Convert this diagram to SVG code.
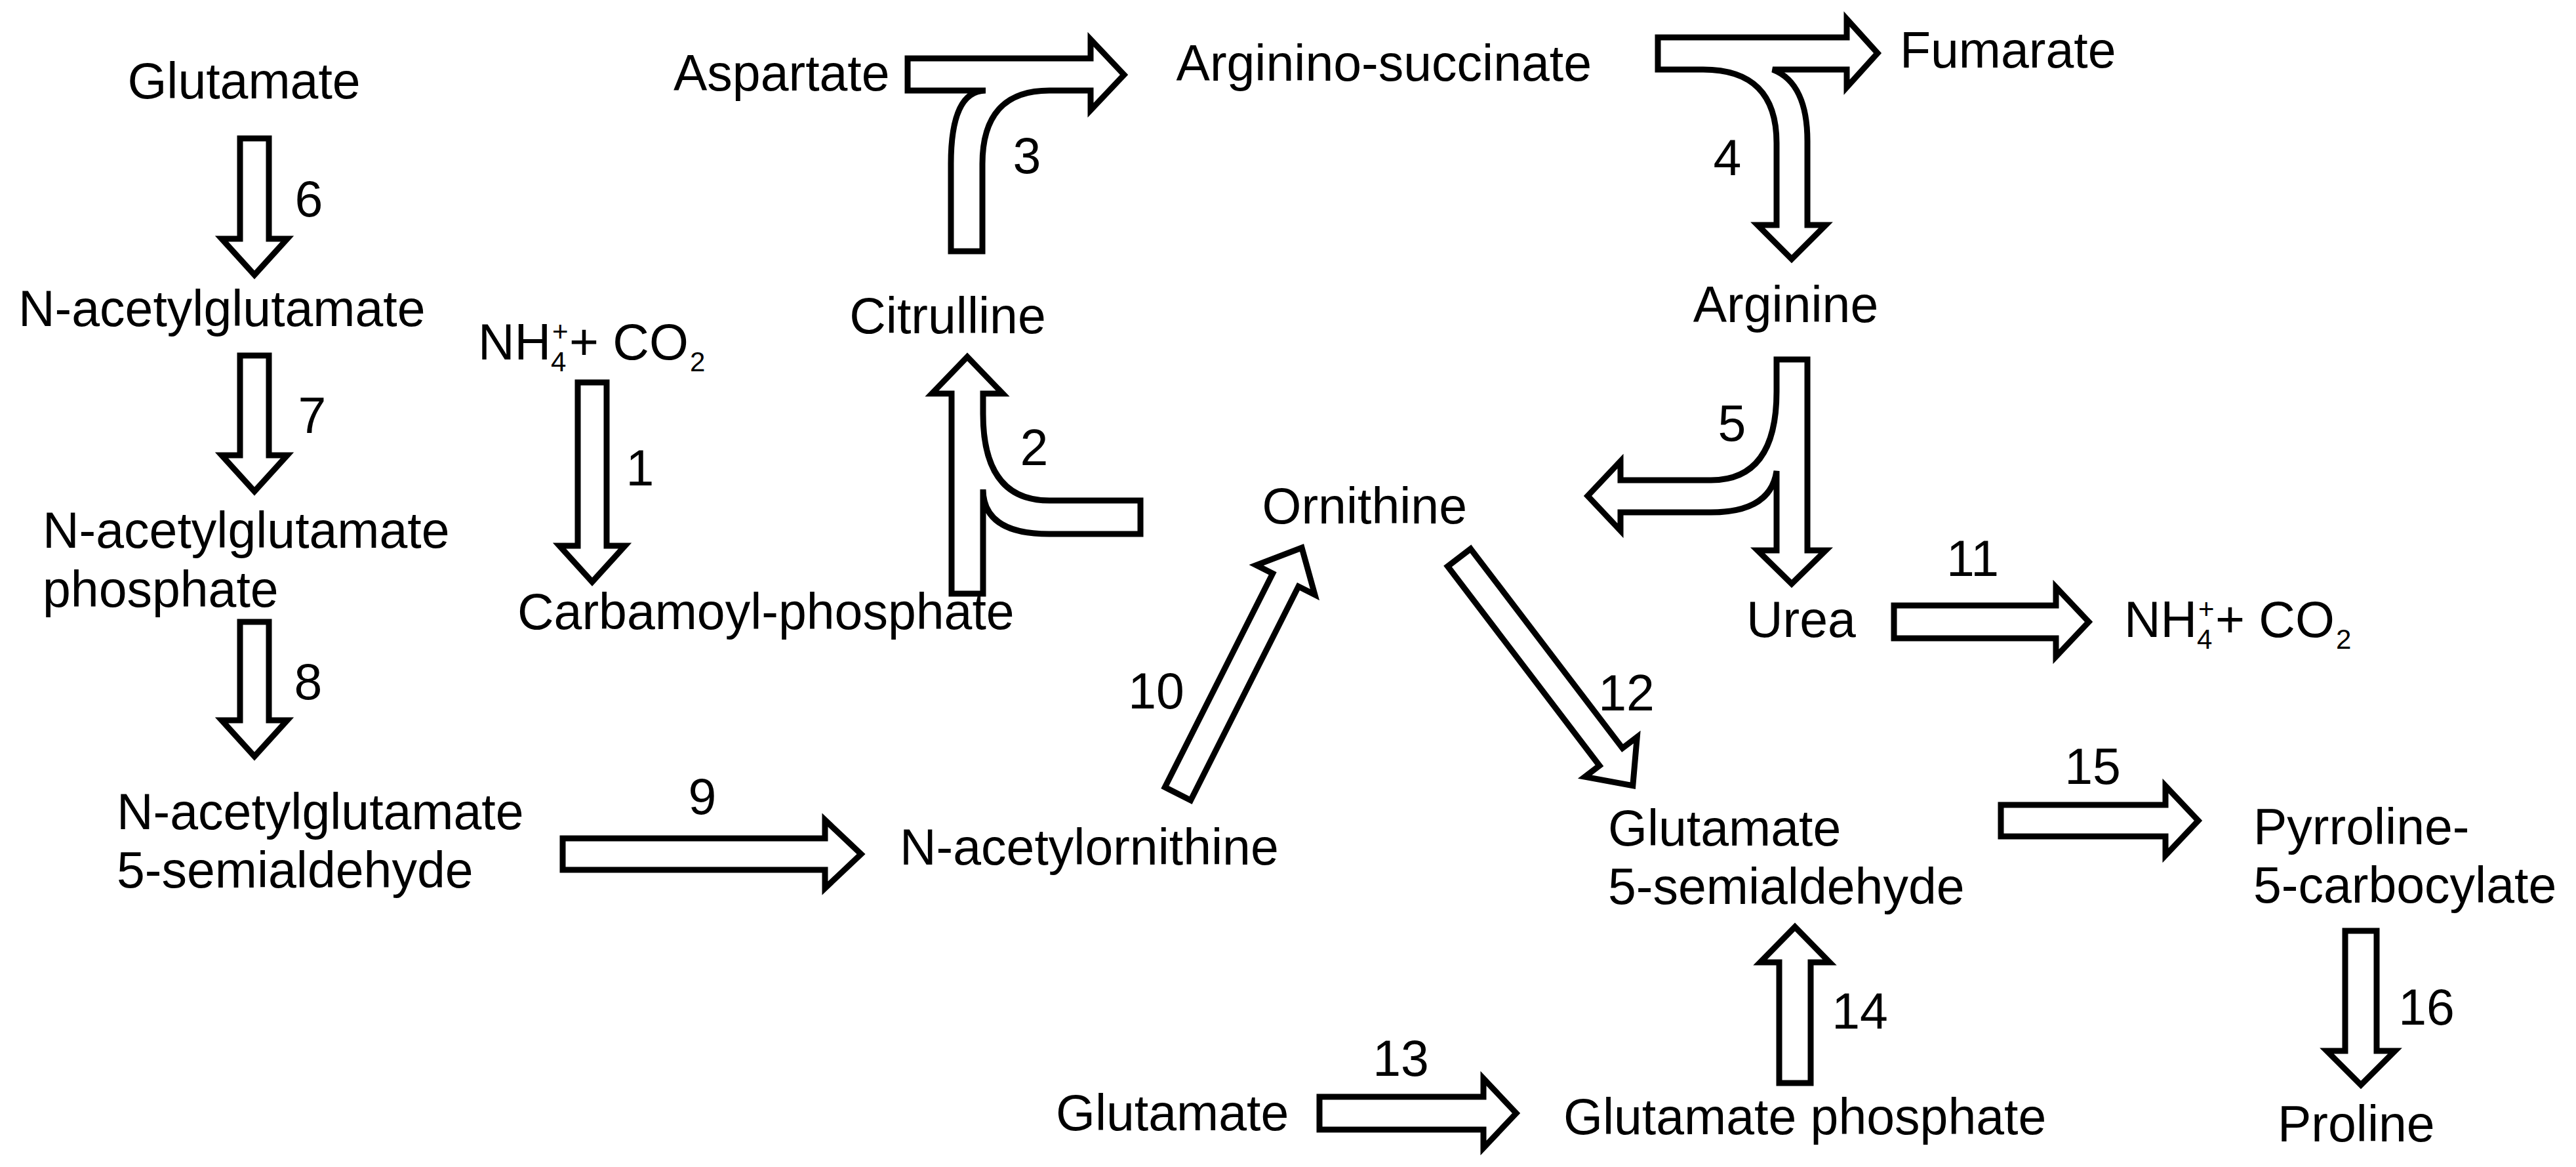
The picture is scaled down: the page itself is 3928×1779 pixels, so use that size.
<svg xmlns="http://www.w3.org/2000/svg" width="3928" height="1779" viewBox="0 0 3928 1779">
<style>
text{font-family:"Liberation Sans",Arial,sans-serif;font-size:77px;fill:#000}
.m{text-anchor:middle}
.e{text-anchor:end}
.s{font-size:42px}
.a{fill:#fff;stroke:#000;stroke-width:9;stroke-linejoin:miter}
</style>
<rect width="3928" height="1779" fill="#fff"/>
<g id="connectors">
<polygon class="a" transform="translate(388,211) rotate(90)" points="0,-22 153,-22 153,-50 208,0 153,50 153,22 0,22"/>
<polygon class="a" transform="translate(388,542) rotate(90)" points="0,-22 152,-22 152,-50 207,0 152,50 152,22 0,22"/>
<polygon class="a" transform="translate(388,948) rotate(90)" points="0,-22 150,-22 150,-50 205,0 150,50 150,22 0,22"/>
<polygon class="a" transform="translate(903,583) rotate(90)" points="0,-22 249,-22 249,-50 304,0 249,50 249,22 0,22"/>
<polygon class="a" transform="translate(858,1302)" points="0,-24 400,-24 400,-52 455,0 400,52 400,24 0,24"/>
<polygon class="a" transform="translate(2888,948)" points="0,-25 247,-25 247,-53 297,0 247,53 247,25 0,25"/>
<polygon class="a" transform="translate(3051,1251)" points="0,-24 251,-24 251,-53 301,0 251,53 251,24 0,24"/>
<polygon class="a" transform="translate(2012,1697)" points="0,-25 250,-25 250,-53 300,0 250,53 250,25 0,25"/>
<polygon class="a" transform="translate(2737,1651) rotate(-90)" points="0,-24 184,-24 184,-53 238,0 184,53 184,24 0,24"/>
<polygon class="a" transform="translate(3600,1419) rotate(90)" points="0,-24 183,-24 183,-52 235,0 183,52 183,24 0,24"/>
<polygon class="a" transform="translate(1796,1210) rotate(-63.25)" points="0,-22 365,-22 365,-50 420,0 365,50 365,22 0,22"/>
<polygon class="a" transform="translate(2225,850) rotate(52.7)" points="0,-22 382,-22 382,-50 437,0 382,50 382,22 0,22"/>
<path class="a" d="M1451,905 L1451,600 L1421,600 L1475,544 L1529,600 L1499,600 L1499,631 Q1499,763 1600,763 L1739,763 L1739,814 L1600,814 Q1499,814 1499,746 L1499,905 Z"/>
<path class="a" d="M1450,383 L1450,250 Q1450,138 1503,138 L1384,138 L1384,89 L1663,89 L1663,60 L1714,114 L1663,168 L1663,138 L1600,138 Q1498,138 1498,250 L1498,383 Z"/>
<path class="a" d="M2528,57 L2816,57 L2816,29 L2863,81 L2816,133 L2816,106 L2703,106 C2740,120 2756,160 2756,215 L2756,343 L2784,343 L2732,395 L2680,343 L2709,343 L2709,218 Q2709,106 2597,106 L2528,106 Z"/>
<path class="a" d="M2709,548 L2756,548 L2756,839 L2784,839 L2732,890 L2680,839 L2709,839 L2709,718 Q2700,781 2609,781 L2471,781 L2471,809 L2421,756 L2471,703 L2471,732 L2609,732 Q2709,732 2709,597 Z"/>
</g>
<g id="glutamate1"><text class="m" x="372" y="150">Glutamate</text></g>
<g id="nag"><text x="28" y="497">N-acetylglutamate</text></g>
<g id="nagp"><text x="65" y="835">N-acetylglutamate</text><text x="65" y="925">phosphate</text></g>
<g id="nags"><text x="178" y="1264">N-acetylglutamate</text><text x="178" y="1353">5-semialdehyde</text></g>
<g id="nh4a"><text x="729" y="548">NH<tspan class="s" x="842" y="520">+</tspan><tspan class="s" x="840" y="566">4</tspan><tspan x="868" y="548">+ CO</tspan><tspan class="s" x="1052" y="566">2</tspan></text></g>
<g id="carbamoyl"><text x="789" y="959">Carbamoyl-phosphate</text></g>
<g id="citrulline"><text class="m" x="1445" y="508">Citrulline</text></g>
<g id="aspartate"><text x="1027" y="138">Aspartate</text></g>
<g id="argsucc"><text class="e" x="2427" y="123">Arginino-succinate</text></g>
<g id="fumarate"><text x="2897" y="103">Fumarate</text></g>
<g id="arginine"><text class="m" x="2723" y="491">Arginine</text></g>
<g id="ornithine"><text class="e" x="2237" y="798">Ornithine</text></g>
<g id="urea"><text x="2663" y="971">Urea</text></g>
<g id="nh4b"><text x="3239" y="971">NH<tspan class="s" x="3352" y="943">+</tspan><tspan class="s" x="3350" y="989">4</tspan><tspan x="3378" y="971">+ CO</tspan><tspan class="s" x="3562" y="989">2</tspan></text></g>
<g id="naorn"><text x="1372" y="1318">N-acetylornithine</text></g>
<g id="g5s"><text x="2452" y="1289">Glutamate</text><text x="2452" y="1378">5-semialdehyde</text></g>
<g id="p5c"><text x="3436" y="1287">Pyrroline-</text><text x="3436" y="1376">5-carbocylate</text></g>
<g id="glutamate2"><text x="1610" y="1723">Glutamate</text></g>
<g id="gp"><text x="2384" y="1729">Glutamate phosphate</text></g>
<g id="proline"><text x="3473" y="1740">Proline</text></g>
<g id="numbers">
<text class="m" x="471" y="330">6</text>
<text class="m" x="476" y="660">7</text>
<text class="m" x="470" y="1066">8</text>
<text class="m" x="976" y="740">1</text>
<text class="m" x="1566" y="264">3</text>
<text class="m" x="1577" y="709">2</text>
<text class="m" x="2634" y="267">4</text>
<text class="m" x="2641" y="672">5</text>
<text class="m" x="3008" y="878">11</text>
<text class="m" x="1763" y="1080">10</text>
<text class="m" x="1071" y="1241">9</text>
<text class="m" x="2480" y="1083">12</text>
<text class="m" x="3191" y="1195">15</text>
<text class="m" x="2136" y="1640">13</text>
<text class="m" x="2836" y="1568">14</text>
<text class="m" x="3700" y="1562">16</text>
</g>
</svg>
